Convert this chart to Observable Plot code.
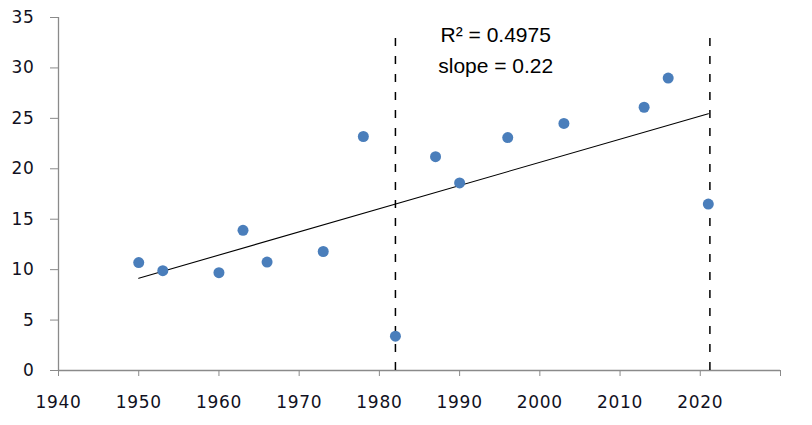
<!DOCTYPE html>
<html>
<head>
<meta charset="utf-8">
<script src="https://cdn.jsdelivr.net/npm/d3@7"></script>
<script src="https://cdn.jsdelivr.net/npm/@observablehq/plot@0.6"></script>
<style>
  html, body { margin: 0; padding: 0; background: #fff; }
  #chart svg { display: block; }
  #chart svg g[aria-label="x-axis tick label"] text,
  #chart svg g[aria-label="y-axis tick label"] text { letter-spacing: 0.7px; }
</style>
</head>
<body>
<div id="chart"></div>
<script>
// Data
const years  = [1950, 1953, 1960, 1963, 1966, 1973, 1978, 1982, 1987, 1990, 1996, 2003, 2013, 2016, 2021];
const values = [10.7, 9.9, 9.7, 13.9, 10.75, 11.8, 23.2, 3.4, 21.2, 18.6, 23.1, 24.5, 26.1, 29.0, 16.5];
const xTicks = [1940, 1950, 1960, 1970, 1980, 1990, 2000, 2010, 2020, 2030];
const xTickLabels = [1940, 1950, 1960, 1970, 1980, 1990, 2000, 2010, 2020];
const yTicks = [0, 5, 10, 15, 20, 25, 30, 35];
const markerYears = [1982, 2021.2];
const markerTop = 33.5;
const annotationLines = ["R\u00B2 = 0.4975", "slope = 0.22"];
const annotationX = 1994.5;
const annotationY = [33.2, 30.2];

const points = years.map((y, i) => ({year: y, value: values[i]}));
const annotations = annotationLines.map((t, i) => ({text: t, x: annotationX, y: annotationY[i]}));

const chart = Plot.plot({
  width: 812,
  height: 425,
  marginLeft: 58,
  marginRight: 32,
  marginTop: 17,
  marginBottom: 55,
  style: {fontFamily: "DejaVu Sans", fontSize: "17px", background: "#fff", color: "black"},
  x: {domain: [1940, 2030]},
  y: {domain: [0, 35]},
  marks: [
    Plot.ruleY([0], {stroke: "#8a8a8a", strokeWidth: 1.3}),
    Plot.ruleX([1940], {stroke: "#8a8a8a", strokeWidth: 1.3}),
    Plot.axisX({
      ticks: xTicks, tickSize: 6, tickPadding: 19, stroke: "#8a8a8a", fill: "#111122",
      tickFormat: d => xTickLabels.includes(d) ? String(d) : "", label: null
    }),
    Plot.axisY({
      ticks: yTicks, tickSize: 8, tickPadding: 16, stroke: "#8a8a8a", fill: "#111122",
      tickFormat: d => String(d), label: null
    }),
    Plot.ruleX(markerYears, {y1: 0, y2: markerTop, stroke: "black", strokeWidth: 1.5, strokeDasharray: "8,10"}),
    Plot.linearRegressionY(points, {x: "year", y: "value", stroke: "black", strokeWidth: 1.1, ci: 0}),
    Plot.dot(points, {x: "year", y: "value", r: 5.5, fill: "#4a7ebb", stroke: "none"}),
    Plot.text(annotations, {
      x: "x", y: "y", text: "text", fill: "black",
      fontFamily: "Liberation Sans, Arial, sans-serif", fontSize: 21, textAnchor: "middle"
    })
  ]
});
document.getElementById("chart").appendChild(chart);
</script>
</body>
</html>
